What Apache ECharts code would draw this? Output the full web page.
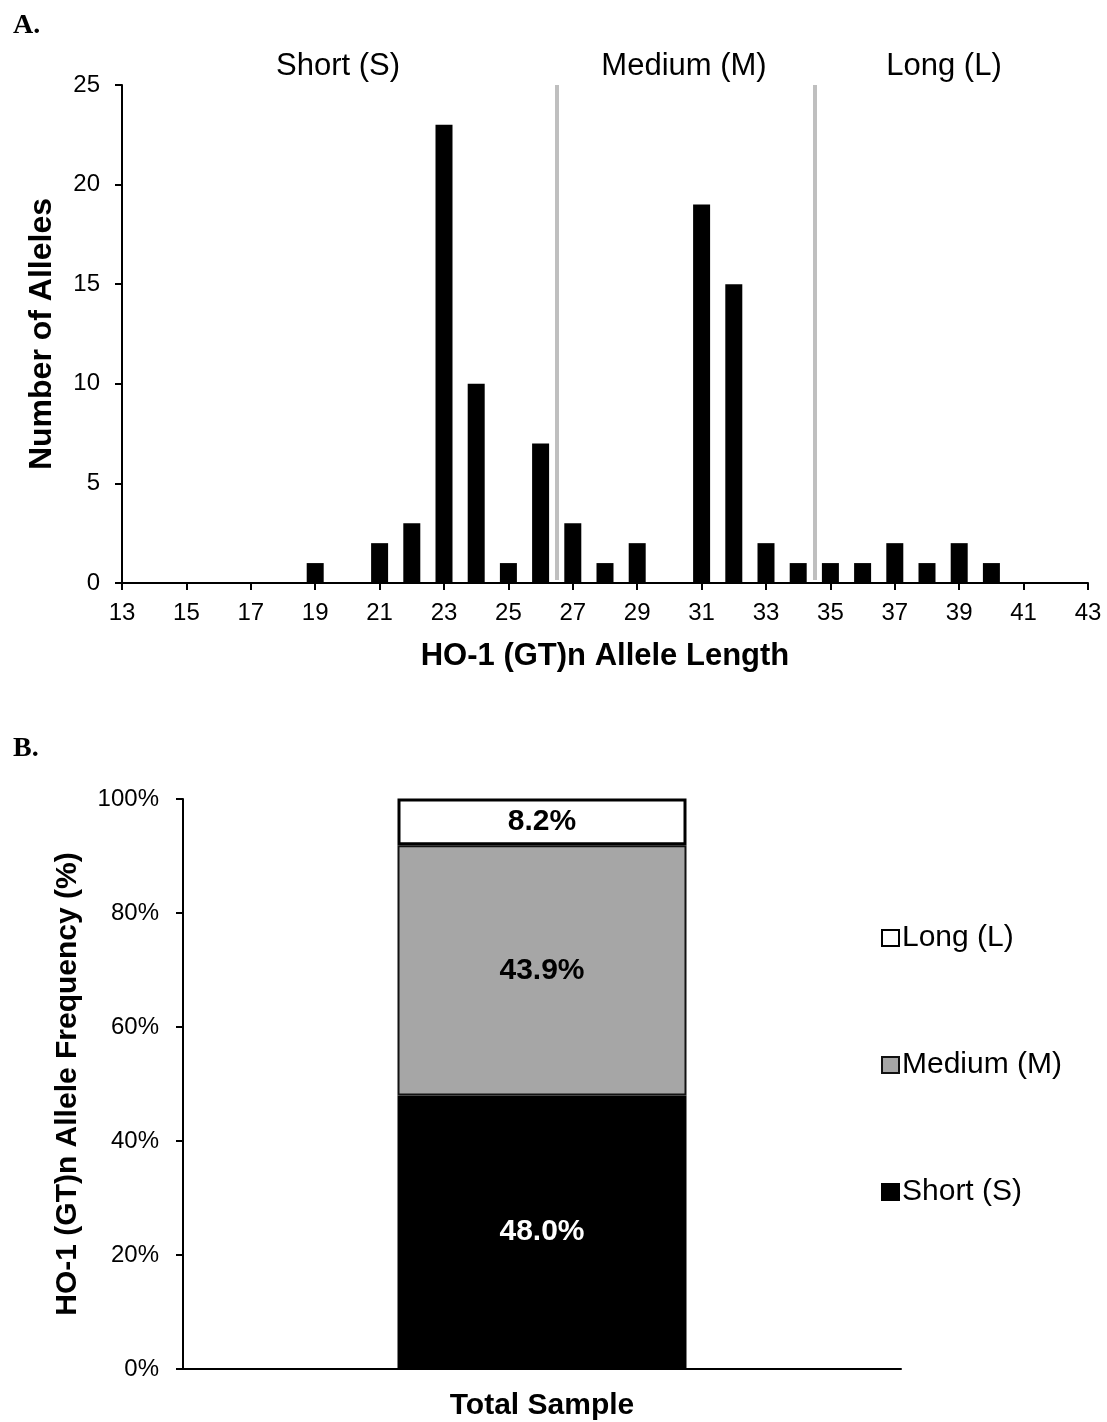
<!DOCTYPE html>
<html>
<head>
<meta charset="utf-8">
<script src="https://cdn.jsdelivr.net/npm/echarts@6/dist/echarts.min.js"></script>
<style>
html,body{margin:0;padding:0;background:#fff;}
#chart{width:1107px;height:1422px;}
</style>
</head>
<body>
<div id="chart"></div>
<script>
// Panel A: allele length histogram
const alleleLengths = [19, 21, 22, 23, 24, 25, 26, 27, 28, 29, 31, 32, 33, 34, 35, 36, 37, 38, 39, 40];
const alleleCounts  = [1, 2, 3, 23, 10, 1, 7, 3, 1, 2, 19, 15, 2, 1, 1, 1, 2, 1, 2, 1];
const cutoffs = [26.5, 34.5];
const regionLabels = ['Short (S)', 'Medium (M)', 'Long (L)'];

// Panel B: stacked frequency
const groupCategories = ['Total Sample'];
const shortFreq  = [48.0];
const mediumFreq = [43.9];
const longFreq   = [8.2];

const SANS = 'Liberation Sans, Arial, sans-serif';

const chart = echarts.init(document.getElementById('chart'), null, {renderer: 'canvas'});

const axisLineStyle = {color: '#000', width: 2};
const regionFont = '31px "Liberation Sans", Arial, sans-serif';

const option = {
  backgroundColor: '#fff',
  animation: false,
  grid: [
    {left: 122, right: 19, top: 85, bottom: 839},
    {left: 183, right: 206, top: 799, bottom: 53}
  ],
  legend: {
    orient: 'vertical',
    left: 876,
    top: 918,
    itemGap: 97,
    itemWidth: 17,
    itemHeight: 16,
    icon: 'rect',
    data: ['Long (L)', 'Medium (M)', 'Short (S)'],
    textStyle: {fontFamily: SANS, fontSize: 30, color: '#000', padding: [0, 0, 0, -2]}
  },
  graphic: [
    {type: 'text', left: 13, top: 12, style: {text: 'A.', font: 'bold 28px "Liberation Serif", "Times New Roman", serif', fill: '#000'}},
    {type: 'text', left: 13, top: 735, style: {text: 'B.', font: 'bold 28px "Liberation Serif", "Times New Roman", serif', fill: '#000'}},
    {type: 'text', x: 338, y: 66, style: {text: regionLabels[0], textAlign: 'center', textVerticalAlign: 'middle', font: regionFont, fill: '#000'}},
    {type: 'text', x: 684, y: 66, style: {text: regionLabels[1], textAlign: 'center', textVerticalAlign: 'middle', font: regionFont, fill: '#000'}},
    {type: 'text', x: 944, y: 66, style: {text: regionLabels[2], textAlign: 'center', textVerticalAlign: 'middle', font: regionFont, fill: '#000'}}
  ],
  xAxis: [
    {
      gridIndex: 0,
      type: 'value',
      min: 13, max: 43, interval: 2,
      name: 'HO-1 (GT)n Allele Length',
      nameLocation: 'middle',
      nameGap: 58,
      nameTextStyle: {fontFamily: SANS, fontWeight: 'bold', fontSize: 31, color: '#000'},
      axisLine: {show: true, lineStyle: axisLineStyle},
      axisTick: {show: true, length: 7, lineStyle: axisLineStyle},
      axisLabel: {fontFamily: SANS, fontSize: 24, color: '#000', margin: 18},
      splitLine: {show: false}
    },
    {
      gridIndex: 1,
      type: 'category',
      data: groupCategories,
      axisLine: {show: true, lineStyle: axisLineStyle},
      axisTick: {show: false},
      axisLabel: {fontFamily: SANS, fontWeight: 'bold', fontSize: 30, color: '#000', margin: 22},
      splitLine: {show: false}
    }
  ],
  yAxis: [
    {
      gridIndex: 0,
      type: 'value',
      min: 0, max: 25, interval: 5,
      name: 'Number of Alleles',
      nameLocation: 'middle',
      nameGap: 64,
      nameTextStyle: {fontFamily: SANS, fontWeight: 'bold', fontSize: 32, color: '#000'},
      axisLine: {show: true, lineStyle: axisLineStyle},
      axisTick: {show: true, length: 7, lineStyle: axisLineStyle},
      axisLabel: {fontFamily: SANS, fontSize: 24, color: '#000', margin: 22},
      splitLine: {show: false}
    },
    {
      gridIndex: 1,
      type: 'value',
      min: 0, max: 100, interval: 20,
      name: 'HO-1 (GT)n Allele Frequency (%)',
      nameLocation: 'middle',
      nameGap: 100,
      nameTextStyle: {fontFamily: SANS, fontWeight: 'bold', fontSize: 30, color: '#000'},
      axisLine: {show: true, lineStyle: axisLineStyle},
      axisTick: {show: true, length: 7, lineStyle: axisLineStyle},
      axisLabel: {fontFamily: SANS, fontSize: 24, color: '#000', margin: 24, formatter: '{value}%'},
      splitLine: {show: false}
    }
  ],
  series: [
    {
      name: 'Alleles',
      type: 'bar',
      xAxisIndex: 0, yAxisIndex: 0,
      barWidth: 17,
      itemStyle: {color: '#000'},
      data: alleleLengths.map((x, i) => [x, alleleCounts[i]]),
      markLine: {
        silent: true,
        symbol: ['none', 'none'],
        label: {show: false},
        lineStyle: {color: '#bfbfbf', width: 4, type: 'solid'},
        data: cutoffs.map(c => [{coord: [c, 25]}, {coord: [c, 0.15]}])
      }
    },
    {
      name: 'Short (S)',
      type: 'bar',
      stack: 'freq',
      xAxisIndex: 1, yAxisIndex: 1,
      barWidth: 289,
      itemStyle: {color: '#000', borderColor: '#000', borderWidth: 2},
      label: {show: true, position: 'inside', color: '#fff', fontFamily: SANS, fontWeight: 'bold', fontSize: 30,
        formatter: p => p.value.toFixed(1) + '%'},
      data: shortFreq
    },
    {
      name: 'Medium (M)',
      type: 'bar',
      stack: 'freq',
      xAxisIndex: 1, yAxisIndex: 1,
      barWidth: 289,
      itemStyle: {color: '#a6a6a6', borderColor: '#111', borderWidth: 2},
      label: {show: true, position: 'inside', color: '#000', fontFamily: SANS, fontWeight: 'bold', fontSize: 30,
        formatter: p => p.value.toFixed(1) + '%'},
      data: mediumFreq
    },
    {
      name: 'Long (L)',
      type: 'bar',
      stack: 'freq',
      xAxisIndex: 1, yAxisIndex: 1,
      barWidth: 289,
      itemStyle: {color: '#fff', borderColor: '#000', borderWidth: 3},
      label: {show: true, position: 'inside', color: '#000', fontFamily: SANS, fontWeight: 'bold', fontSize: 30,
        formatter: p => p.value.toFixed(1) + '%'},
      data: longFreq
    }
  ]
};

chart.setOption(option);
</script>
</body>
</html>
